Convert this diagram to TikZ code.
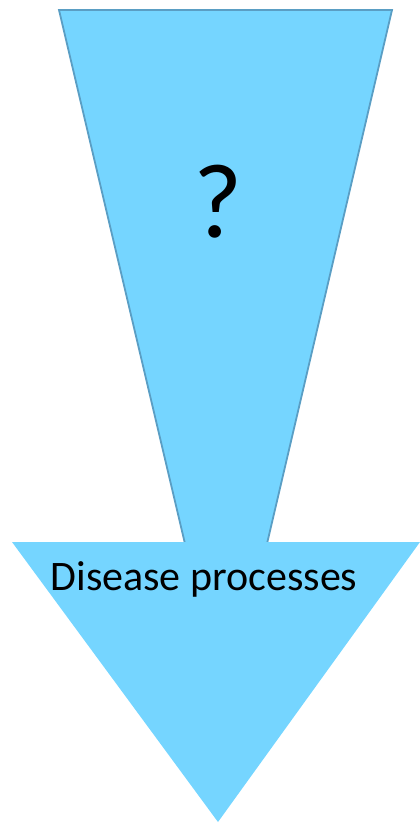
\documentclass[tikz,border=0pt]{standalone}
\usepackage{fontspec}
\setmainfont{Carlito}
\definecolor{arrowfill}{HTML}{75D5FF}
\definecolor{arrowline}{HTML}{5A9EC4}
\begin{document}
\begin{tikzpicture}[x=1pt,y=-1pt,
  stemshape/.style={fill=arrowfill,draw=arrowline,line width=1.8pt,line join=miter},
  headshape/.style={fill=arrowfill},
  label/.style={inner sep=0pt,text=black}]
\useasboundingbox (0,0) rectangle (420,823);
% tapering stem
\coordinate (tl) at (59,10);
\coordinate (tr) at (392,10);
\coordinate (br) at (266,548);
\coordinate (bl) at (186,548);
\draw[stemshape] (tl) -- (tr) -- (br) -- (bl) -- cycle;
% arrow head
\coordinate (hl) at (12,542);
\coordinate (hr) at (420,542);
\coordinate (tip) at (218,822);
\fill[headshape] (hl) -- (hr) -- (tip) -- cycle;
% labels
\node[label,font=\fontsize{106}{106}\selectfont] (q) at (218,202) {?};
\node[label,font=\fontsize{42}{44}\selectfont] (dp) at (204,579) {Disease processes};
\end{tikzpicture}
\end{document}
